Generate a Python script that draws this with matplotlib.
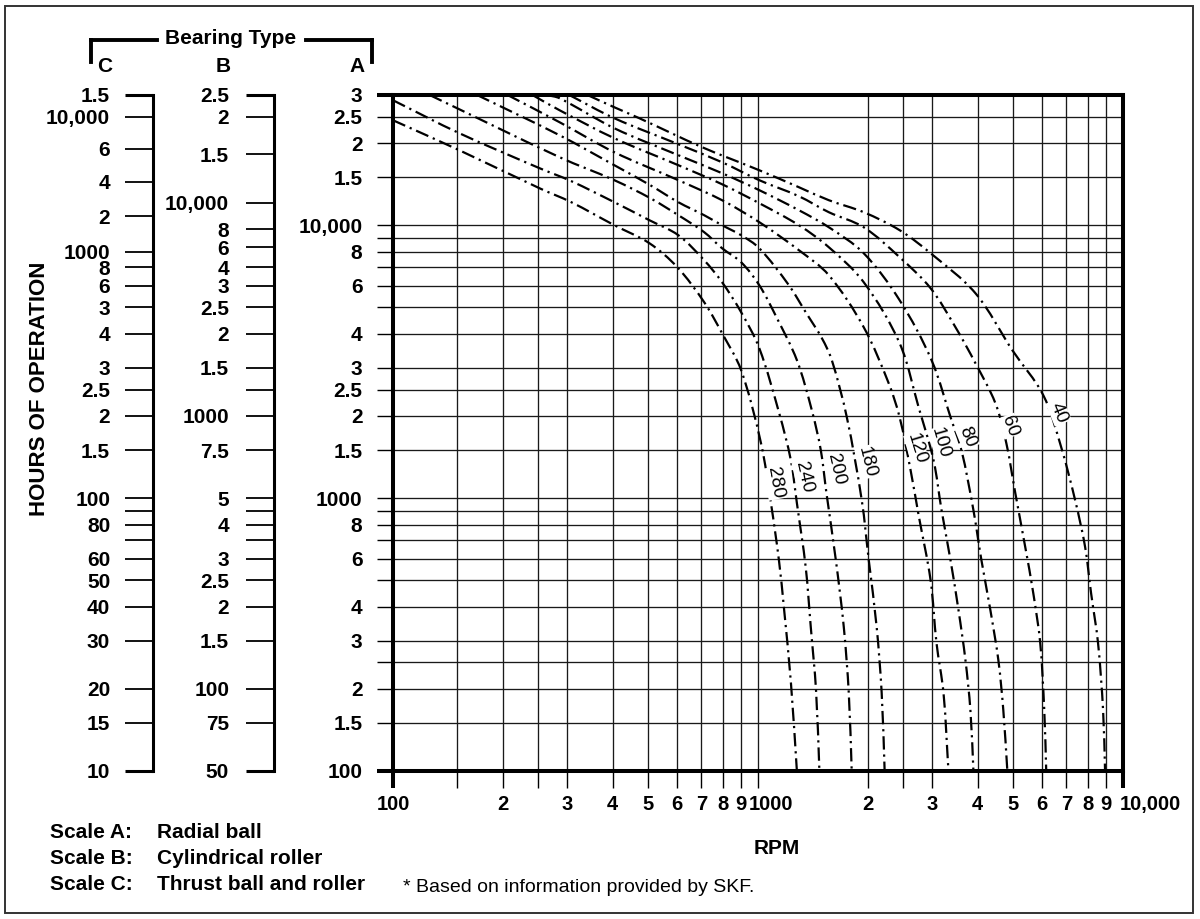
import matplotlib
matplotlib.use("Agg")
import numpy as np
import matplotlib.pyplot as plt
from matplotlib.lines import Line2D
from matplotlib.patches import Rectangle, PathPatch
from matplotlib.path import Path
from matplotlib.ticker import NullLocator
from matplotlib.transforms import ScaledTranslation

plt.rcParams['font.family'] = ['Liberation Sans', 'DejaVu Sans']

# ---------------- data ----------------
rpm_ticks = [100, 150, 200, 250, 300, 400, 500, 600, 700, 800, 900, 1000,
             2000, 2500, 3000, 4000, 5000, 6000, 7000, 8000, 9000, 10000]
rpm_labels = ['100', '', '2', '', '3', '4', '5', '6', '7', '8', '9', '1000',
              '2', '', '3', '4', '5', '6', '7', '8', '9', '10,000']

hours_ticks_a = [100, 150, 200, 250, 300, 400, 500, 600, 700, 800, 900, 1000,
                 1500, 2000, 2500, 3000, 4000, 5000, 6000, 7000, 8000, 9000,
                 10000, 15000, 20000, 25000, 30000]
hours_labels_a = ['100', '1.5', '2', '', '3', '4', '', '6', '', '8', '', '1000',
                  '1.5', '2', '2.5', '3', '4', '', '6', '', '8', '',
                  '10,000', '1.5', '2', '2.5', '3']

# Scale B (cylindrical roller): labels and the scale-A hours they sit against
scale_b_labels = ['2.5', '2', '1.5', '10,000', '8', '6', '4', '3', '2.5', '2',
                  '1.5', '', '1000', '7.5', '5', '', '4', '', '3', '2.5', '2',
                  '1.5', '100', '75', '50']
scale_b_hours_a = [30000, 25000, 18200, 12100, 9670, 8300, 7000, 6000, 5000,
                   4000, 3000, 2500, 2000, 1500, 1000, 900, 800, 700, 600, 500,
                   400, 300, 200, 150, 100]

# Scale C (thrust ball and roller)
scale_c_labels = ['1.5', '10,000', '6', '4', '2', '1000', '8', '6', '3', '4',
                  '3', '2.5', '2', '1.5', '100', '', '80', '', '60', '50', '40',
                  '30', '20', '15', '10']
scale_c_hours_a = [30000, 25000, 19100, 14400, 10800, 8000, 7000, 6000, 5000,
                   4000, 3000, 2500, 2000, 1500, 1000, 900, 800, 700, 600, 500,
                   400, 300, 200, 150, 100]

# Curves (RPM, hours on scale A)
rpm_40 = [341, 404, 473, 703, 1008, 1294, 1563, 1948, 2443, 2970, 3941, 4974,
          6046, 6770, 7393, 7876, 8175, 8544, 8819, 8930]
hrs_40 = [30000, 27050, 24660, 19310, 15900, 13780, 12350, 11160, 9590, 7895,
          5635, 3484, 2384, 1538, 983, 661, 449, 294, 167, 100]

rpm_60 = [304, 404, 605, 797, 1008, 1294, 1563, 1948, 2443, 2970, 3475, 3941,
          4470, 4790, 5069, 5398, 5677, 5933, 6085, 6161]
hrs_60 = [30000, 24660, 19800, 17010, 14620, 12770, 11160, 9830, 7634, 5878,
          4230, 3123, 2228, 1590, 1043, 661, 449, 294, 167, 100]

rpm_80 = [264, 286, 404, 605, 797, 1008, 1294, 1563, 1948, 2443, 2988, 3389,
          3609, 3892, 4093, 4331, 4555, 4700, 4821]
hrs_80 = [30000, 29190, 22660, 18050, 15510, 13440, 11350, 9830, 7895, 5313,
          3203, 1931, 1499, 904, 593, 389, 255, 167, 100]

rpm_100 = [241, 286, 404, 605, 797, 1008, 1294, 1563, 1948, 2443, 2754, 3026,
           3183, 3368, 3542, 3701, 3819, 3892]
hrs_100 = [30000, 26380, 20830, 16590, 14130, 12040, 10000, 8306, 6183, 3697,
           2154, 1378, 904, 593, 389, 255, 167, 100]

rpm_120 = [206, 286, 404, 605, 797, 1008, 1294, 1563, 1948, 2280, 2443, 2618,
           2754, 2970, 3084, 3223, 3325]
hrs_120 = [30000, 23840, 18510, 14620, 12350, 10260, 8100, 6560, 4230, 2638,
           1980, 1267, 867, 501, 294, 193, 100]

rpm_180 = [170, 286, 404, 507, 605, 712, 797, 899, 1008, 1215, 1351, 1496,
           1593, 1751, 1924, 2011, 2114, 2182, 2223]
hrs_180 = [30000, 21360, 16590, 14010, 12140, 10880, 10000, 9190, 8236, 6028,
           4800, 3856, 3203, 1980, 983, 593, 337, 193, 100]

rpm_200 = [126, 286, 404, 507, 605, 712, 797, 899, 1008, 1127, 1278, 1404,
           1486, 1540, 1634, 1718, 1773, 1806]
hrs_200 = [30000, 17750, 14620, 12560, 10880, 9430, 8236, 7317, 6028, 4563,
           3203, 2101, 1499, 1043, 593, 337, 193, 100]

rpm_240 = [100, 152, 252, 308, 404, 504, 605, 712, 797, 899, 1008, 1143, 1230,
           1278, 1351, 1395, 1442, 1473]
hrs_240 = [28700, 21730, 16180, 14500, 12140, 10430, 9190, 7441, 6183, 4800,
           3544, 2048, 1378, 959, 559, 337, 198, 100]

rpm_280 = [100, 152, 252, 308, 404, 504, 601, 712, 797, 899, 1019, 1085, 1141,
           1178, 1231, 1278]
hrs_280 = [24240, 18820, 13660, 12140, 10000, 8590, 7018, 5223, 4021, 2944,
           1590, 959, 593, 395, 210, 100]

curve_names = ['40', '60', '80', '100', '120', '180', '200', '240', '280']
curve_rpm = [rpm_40, rpm_60, rpm_80, rpm_100, rpm_120, rpm_180, rpm_200, rpm_240, rpm_280]
curve_hrs = [hrs_40, hrs_60, hrs_80, hrs_100, hrs_120, hrs_180, hrs_200, hrs_240, hrs_280]

# where each curve label sits (RPM, hours) and its angle
label_rpm = [6685, 4882, 3749, 3162, 2719, 1986, 1634, 1336, 1113]
label_hrs = [2048, 1835, 1673, 1590, 1512, 1355, 1277, 1194, 1135]
label_rot = [-68, -70, -68, -74, -73, -76, -77, -77, -80]

scale_names = ['Scale A:', 'Scale B:', 'Scale C:']
bearing_types = ['Radial ball', 'Cylindrical roller', 'Thrust ball and roller']

# ---------------- figure ----------------
W, H = 1200, 919
fig = plt.figure(figsize=(W / 100, H / 100), dpi=100)


def fx(px):
    return px / W


def fy(py):
    return 1 - py / H


L, R, T, B = 393, 1123, 95, 771
ax = fig.add_axes([fx(L), fy(B), (R - L) / W, (B - T) / H])
ax.set_xscale('log')
ax.set_yscale('log')
ax.set_xlim(100, 10000)
ax.set_ylim(100, 30000)
ax.set_xticks(rpm_ticks)
ax.set_xticklabels(rpm_labels)
ax.set_yticks(hours_ticks_a)
ax.set_yticklabels(hours_labels_a)
ax.xaxis.set_minor_locator(NullLocator())
ax.yaxis.set_minor_locator(NullLocator())
ax.grid(True, which='major', color='#1a1a1a', lw=0.95)
ax.set_axisbelow(True)
for s in ax.spines.values():
    s.set_linewidth(2.9)
ax.tick_params(axis='x', direction='out', length=12.2, width=1.0, pad=5,
               labelsize=14.5)
ax.tick_params(axis='y', direction='out', length=11.5, width=1.0, pad=10.5,
               labelsize=15)
for lab in ax.get_xticklabels() + ax.get_yticklabels():
    lab.set_fontweight('bold')
for t in ax.xaxis.get_major_ticks():
    if t.get_loc() in (100, 10000):
        t.tick1line.set_markeredgewidth(2.9)
for t in ax.yaxis.get_major_ticks():
    if t.get_loc() in (100, 30000):
        t.tick1line.set_markeredgewidth(2.9)
xl = ax.get_xticklabels()
for lab, txt in zip(xl, rpm_labels):
    if txt == '10,000':
        lab.set_horizontalalignment('left')
        lab.set_transform(lab.get_transform() +
                          ScaledTranslation(-3 / 100, 0, fig.dpi_scale_trans))
    elif txt == '1000':
        lab.set_horizontalalignment('left')
        lab.set_transform(lab.get_transform() +
                          ScaledTranslation(-9 / 100, 0, fig.dpi_scale_trans))

# smooth rendering of each read curve (cubic Bezier through the read points,
# built in log space so it follows the log axes)
ax_w_px = (R - L)
ax_h_px = (B - T)
sx = ax_w_px / (np.log10(10000) - np.log10(100))
sy = ax_h_px / (np.log10(30000) - np.log10(100))


def smooth_path(xs, ys):
    P = np.column_stack([np.log10(xs) * sx, np.log10(ys) * sy])
    n = len(P)
    tang = []
    for i in range(n):
        if i == 0:
            d = P[1] - P[0]
        elif i == n - 1:
            d = P[-1] - P[-2]
        else:
            d = P[i + 1] - P[i - 1]
        tang.append(d / np.hypot(*d))
    verts = [P[0]]
    codes = [Path.MOVETO]
    for i in range(n - 1):
        seg = np.hypot(*(P[i + 1] - P[i])) / 3.0
        verts += [P[i] + tang[i] * seg, P[i + 1] - tang[i + 1] * seg, P[i + 1]]
        codes += [Path.CURVE4] * 3
    V = np.array(verts)
    V = np.column_stack([10 ** (V[:, 0] / sx), 10 ** (V[:, 1] / sy)])
    return Path(V, codes)


for rp, hr in zip(curve_rpm, curve_hrs):
    ax.add_patch(PathPatch(smooth_path(rp, hr), fill=False, edgecolor='black',
                           lw=1.6, linestyle=(0, (6, 2.2, 1, 2.2)),
                           capstyle='butt', zorder=3))

for name, xr, yh, rot in zip(curve_names, label_rpm, label_hrs, label_rot):
    ax.text(xr, yh, name, rotation=rot, rotation_mode='anchor', ha='center',
            va='center', fontsize=13.5, zorder=4,
            bbox=dict(facecolor='white', edgecolor='none', pad=0.4))


# side scales B and C
def side_scale(x_px, ticks, labels, pad):
    a = fig.add_axes([fx(x_px), fy(B), 1e-5, (B - T) / H])
    a.set_yscale('log')
    a.set_ylim(100, 30000)
    a.set_yticks(ticks)
    a.set_yticklabels(labels)
    a.yaxis.set_minor_locator(NullLocator())
    a.xaxis.set_visible(False)
    for k in ('top', 'right', 'bottom'):
        a.spines[k].set_visible(False)
    a.spines['left'].set_linewidth(2.2)
    a.patch.set_visible(False)
    a.tick_params(axis='y', direction='out', length=20.3, width=1.3, pad=pad,
                  labelsize=15)
    for lab in a.get_yticklabels():
        lab.set_fontweight('bold')
    for t in a.yaxis.get_major_ticks():
        if t.get_loc() in (100, 30000):
            t.tick1line.set_markeredgewidth(2.2)
    return a


side_scale(153, scale_c_hours_a, scale_c_labels, 10.5)
side_scale(274, scale_b_hours_a, scale_b_labels, 12)

# header bracket
for (x0, y0, x1, y1) in [(91, 40, 157, 40), (306, 40, 372, 40),
                         (91, 40, 91, 62), (372, 40, 372, 62)]:
    fig.add_artist(Line2D([fx(x0), fx(x1)], [fy(y0), fy(y1)], lw=2.8,
                          color='black', solid_capstyle='projecting',
                          transform=fig.transFigure))
fig.text(fx(231), fy(39), 'Bearing Type', ha='center', va='center',
         fontsize=15, fontweight='bold')
for letter, xp in zip(['C', 'B', 'A'], [105, 223, 357]):
    fig.text(fx(xp), fy(67), letter, ha='center', va='center', fontsize=15,
             fontweight='bold')

fig.text(fx(40), fy(389), 'HOURS OF OPERATION', rotation=90, ha='center',
         va='center', fontsize=16, fontweight='bold')
fig.text(fx(777), fy(849), 'RPM', ha='center', va='center', fontsize=15,
         fontweight='bold')
fig.text(fx(403), fy(888), '* Based on information provided by SKF.',
         ha='left', va='center', fontsize=14)

for i, (sn, bt) in enumerate(zip(scale_names, bearing_types)):
    yy = 832 + i * 26.5
    fig.text(fx(50), fy(yy), sn, ha='left', va='center', fontsize=15,
             fontweight='bold')
    fig.text(fx(157), fy(yy), bt, ha='left', va='center', fontsize=15,
             fontweight='bold')

fig.patches.append(Rectangle((fx(5), fy(913)), 1188 / W, 907 / H,
                             transform=fig.transFigure, fill=False, lw=1.4,
                             edgecolor='#333333'))

fig.savefig('out.png', dpi=100)
